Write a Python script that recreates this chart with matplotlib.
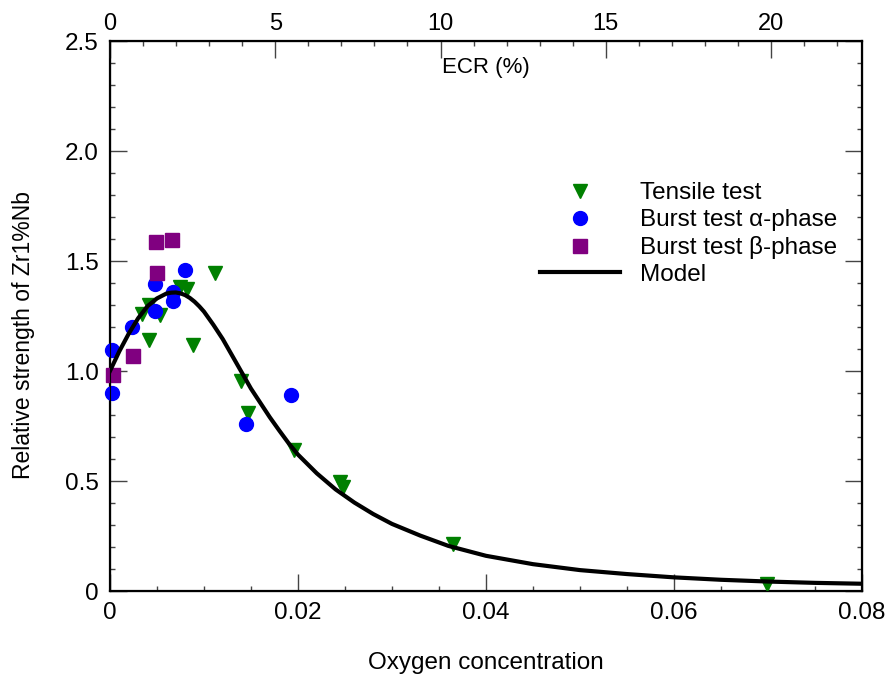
#!/usr/bin/env python3
import numpy as np
import matplotlib
matplotlib.use('Agg')
from matplotlib import pyplot as plt
from matplotlib.ticker import MultipleLocator, FixedLocator

plt.rcParams['font.family'] = ['Liberation Sans', 'DejaVu Sans']
plt.rcParams['font.size'] = 17

# Tensile test (oxygen concentration, relative strength)
tensile_x = [0.0034, 0.0041, 0.0042, 0.0053, 0.0075, 0.0082, 0.0088, 0.0112,
             0.0139, 0.0147, 0.0196, 0.0245, 0.0248, 0.0365, 0.0699]
tensile_y = [1.26, 1.30, 1.14, 1.255, 1.38, 1.375, 1.12, 1.445,
             0.955, 0.81, 0.64, 0.495, 0.475, 0.215, 0.03]

# Burst test alpha-phase
alpha_x = [0.0002, 0.0002, 0.0023, 0.0048, 0.0048, 0.0067, 0.0067, 0.0080,
           0.0145, 0.0193]
alpha_y = [1.095, 0.90, 1.20, 1.394, 1.273, 1.36, 1.318, 1.459, 0.76, 0.89]

# Burst test beta-phase
beta_x = [0.0049, 0.0066, 0.0050, 0.0025, 0.0003]
beta_y = [1.585, 1.595, 1.444, 1.068, 0.982]

# Model curve
model_x = [0.0, 0.001, 0.0015, 0.002, 0.0025, 0.003, 0.004, 0.005, 0.006,
           0.0065, 0.007, 0.0075, 0.008, 0.0085, 0.009, 0.0095, 0.010,
           0.011, 0.012, 0.013, 0.014, 0.015, 0.016, 0.017, 0.018, 0.019,
           0.020, 0.022, 0.024, 0.026, 0.028, 0.030, 0.033, 0.036, 0.040,
           0.045, 0.050, 0.055, 0.060, 0.065, 0.070, 0.075, 0.080]
model_y = [1.00, 1.09, 1.13, 1.17, 1.205, 1.24, 1.295, 1.33, 1.352,
           1.356, 1.357, 1.353, 1.345, 1.332, 1.315, 1.294, 1.27,
           1.21, 1.145, 1.07, 0.995, 0.92, 0.855, 0.79, 0.73, 0.672,
           0.62, 0.535, 0.462, 0.402, 0.35, 0.305, 0.252, 0.205, 0.160,
           0.122, 0.095, 0.077, 0.062, 0.051, 0.043, 0.037, 0.033]

x_ticks = [0, 0.02, 0.04, 0.06, 0.08]
x_labels = ['0', '0.02', '0.04', '0.06', '0.08']
y_ticks = [0, 0.5, 1.0, 1.5, 2.0, 2.5]
y_labels = ['0', '0.5', '1.0', '1.5', '2.0', '2.5']
ecr_ticks = [0, 5, 10, 15, 20]
ecr_max = 22.75

fig = plt.figure(figsize=(8.89, 6.79), dpi=100)
ax = fig.add_axes([0.1237, 0.1296, 0.9696 - 0.1237, 0.9396 - 0.1296])

ax.plot(tensile_x, tensile_y, 'v', color='#008000', markersize=10,
        linestyle='none', label='Tensile test', clip_on=False, zorder=3)
ax.plot(alpha_x, alpha_y, 'o', color='#0000ff', markersize=10,
        linestyle='none', label='Burst test \u03b1-phase', clip_on=False,
        zorder=3)
ax.plot(beta_x, beta_y, 's', color='#800080', markersize=10,
        linestyle='none', label='Burst test \u03b2-phase', clip_on=False,
        zorder=3)
ax.plot(model_x, model_y, '-', color='black', linewidth=3, label='Model',
        zorder=4)

ax.set_xlim(0, 0.08)
ax.set_ylim(0, 2.5)
ax.set_xticks(x_ticks)
ax.set_xticklabels(x_labels)
ax.xaxis.set_minor_locator(MultipleLocator(0.005))
ax.set_yticks(y_ticks)
ax.set_yticklabels(y_labels)
ax.yaxis.set_minor_locator(MultipleLocator(0.1))
ax.tick_params(which='both', direction='in', top=False, right=True,
               labelsize=17.5, width=1, color='#444444')
ax.tick_params(which='major', length=12, pad=8)
ax.tick_params(which='minor', length=3.5)
for sp in ax.spines.values():
    sp.set_linewidth(1.6)

ax.set_xlabel('Oxygen concentration', fontsize=17.5, labelpad=20)
ax.set_ylabel('Relative strength of Zr1%Nb', fontsize=16.5)
ax.yaxis.set_label_coords(-0.1, 0.465)

ax2 = ax.twiny()
ax2.set_xlim(0, ecr_max)
ax2.xaxis.set_major_locator(FixedLocator(ecr_ticks))
ax2.xaxis.set_minor_locator(MultipleLocator(1))
ax2.tick_params(which='both', direction='in', labelsize=17, width=1,
                color='#444444')
ax2.tick_params(which='major', length=12, pad=4)
ax2.tick_params(which='minor', length=3.5)
ax.text(0.5, 0.951, 'ECR (%)', transform=ax.transAxes, ha='center',
        va='center', fontsize=16)

ax.legend(loc='upper left', bbox_to_anchor=(0.572, 0.743), frameon=False,
          fontsize=17.5, handlelength=3.3, handletextpad=0.82,
          labelspacing=0.2, borderpad=0, borderaxespad=0, numpoints=1)

fig.savefig('out.png', dpi=100)
